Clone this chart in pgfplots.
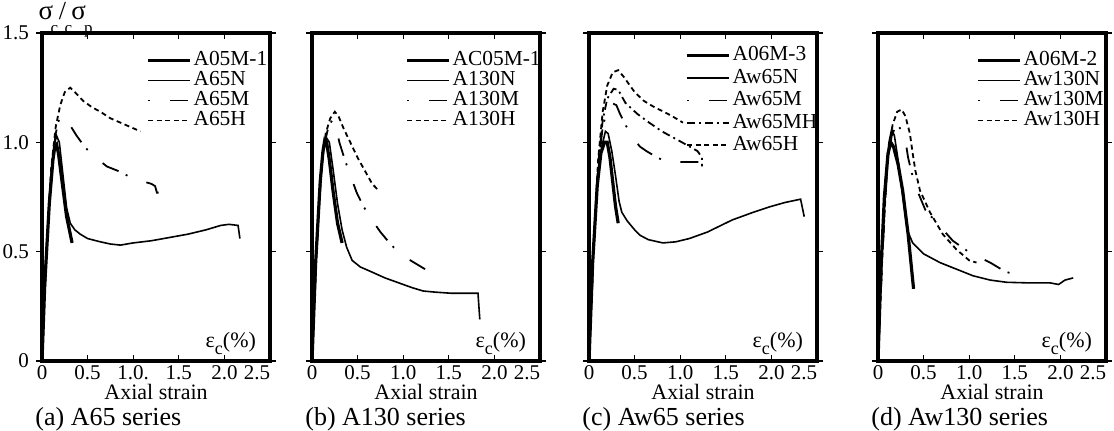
\documentclass[border=0pt]{standalone}
\usepackage{fontspec}
\setmainfont{Liberation Serif}
\usepackage{pgfplots}
\pgfplotsset{compat=1.18}
\tikzset{eps/.style={font=\fontsize{11}{12}\selectfont, anchor=base east}}
\begin{document}
\begin{tikzpicture}
\pgfplotsset{
  panel/.style={
    scale only axis, width=114pt, height=164pt, anchor=south west,
    xmin=0, xmax=2.5, ymin=0, ymax=1.5,
    axis line style={line width=1.8pt},
    xtick={0,0.5,1,1.5,2,2.5},
    xticklabels={0,0.5,1.0,1.5,2.0,\llap{2.5}},
    ytick={0,0.5,1,1.5},
    yticklabels={},
    x tick style={line width=0.6pt, black},
    y tick style={line width=0.6pt, black},
    xtick align=inside, ytick align=outside,
    major tick length=3pt,
    tick label style={font=\fontsize{10.5}{12}\selectfont},
    /pgf/number format/assume math mode=true,
    xticklabel style={inner ysep=0pt, yshift=-2pt, text depth=0pt},
    legend cell align=left,
    legend style={draw=none, fill=none, anchor=north west,
      font=\fontsize{10.7}{12}\selectfont, row sep=0pt, inner sep=0pt,
      nodes={inner xsep=1pt, inner ysep=0pt, text height=7.5pt, text depth=2.5pt}},
    legend image code/.code={\draw[##1] (0pt,0pt) -- (21pt,0pt);},
    clip=false,
  },
  sK/.style={black, line width=1.6pt},
  sN/.style={black, line width=0.8pt},
  sM/.style={black, line width=0.9pt, dash pattern=on 1pt off 10pt on 9pt off 4pt},
  sMH/.style={black, line width=0.9pt, dash pattern=on 4pt off 2pt on 1pt off 2pt},
  sH/.style={black, line width=0.9pt, dash pattern=on 2.5pt off 1.8pt},
}
% ---------------- (a) ----------------
\begin{axis}[panel, at={(21pt,34.5pt)},
  legend style={at={(0.456,0.948)}},
  xticklabels={0,0.5,1.0.,1.5,2.0,\llap{2.5}},
  yticklabels={0,0.5,1.0,1.5}]
\addplot[sK] coordinates {(0,0) (0.03,0.35) (0.08,0.72) (0.12,0.92) (0.14,0.98) (0.16,0.99) (0.18,0.95) (0.22,0.82) (0.27,0.66) (0.33,0.54)};
\addlegendentry{A05M-1}
\addplot[sN] coordinates {(0,0) (0.04,0.45) (0.09,0.8) (0.13,0.98) (0.16,1.03) (0.19,1.0) (0.23,0.85) (0.27,0.7) (0.31,0.63) (0.36,0.6) (0.42,0.58) (0.5,0.56) (0.64,0.545) (0.75,0.535) (0.86,0.53) (1.0,0.54) (1.2,0.55) (1.4,0.565) (1.6,0.58) (1.8,0.6) (1.96,0.62) (2.05,0.625) (2.15,0.62) (2.17,0.56)};
\addlegendentry{A65N}
\addplot[sM] coordinates {(0,0) (0.05,0.5) (0.1,0.85) (0.15,1.04) (0.19,1.11) (0.22,1.12) (0.26,1.11) (0.29,1.09) (0.35,1.05) (0.38,1.03) (0.45,0.99) (0.53,0.95) (0.62,0.92) (0.71,0.89) (0.83,0.87) (0.95,0.845) (1.05,0.83) (1.12,0.82) (1.2,0.81) (1.24,0.80) (1.26,0.77) (1.32,0.77)};
\addlegendentry{A65M}
\addplot[sH] coordinates {(0,0) (0.05,0.5) (0.1,0.88) (0.15,1.07) (0.2,1.17) (0.25,1.23) (0.31,1.25) (0.36,1.23) (0.45,1.19) (0.55,1.16) (0.64,1.14) (0.75,1.11) (0.86,1.09) (0.97,1.07) (1.08,1.05)};
\addlegendentry{A65H}
\node[eps] at ([xshift=-3.5pt,yshift=7pt]rel axis cs:1,0) {ε\raisebox{-0.7ex}{\fontsize{9}{10}\selectfont c}(\%)};
\end{axis}
% ---------------- (b) ----------------
\begin{axis}[panel, at={(156pt,34.5pt)}, legend style={at={(0.408,0.948)}}]
\addplot[sK] coordinates {(0,0) (0.04,0.45) (0.09,0.82) (0.12,0.96) (0.14,1.01) (0.16,1.0) (0.19,0.92) (0.23,0.78) (0.28,0.63) (0.33,0.54)};
\addlegendentry{AC05M-1}
\addplot[sN] coordinates {(0,0) (0.04,0.45) (0.09,0.82) (0.13,0.98) (0.16,1.02) (0.19,1.0) (0.23,0.88) (0.28,0.72) (0.33,0.6) (0.38,0.52) (0.44,0.46) (0.53,0.43) (0.64,0.41) (0.8,0.38) (1.0,0.35) (1.1,0.335) (1.22,0.32) (1.35,0.315) (1.52,0.31) (1.82,0.31) (1.84,0.19)};
\addlegendentry{A130N}
\addplot[sM] coordinates {(0,0) (0.05,0.5) (0.1,0.86) (0.14,1.0) (0.18,1.07) (0.22,1.10) (0.26,1.08) (0.3,1.0) (0.36,0.92) (0.42,0.85) (0.49,0.77) (0.56,0.71) (0.65,0.65) (0.75,0.59) (0.87,0.53) (1.0,0.48) (1.12,0.45) (1.24,0.42)};
\addlegendentry{A130M}
\addplot[sH] coordinates {(0,0) (0.05,0.5) (0.1,0.87) (0.15,1.04) (0.2,1.11) (0.25,1.14) (0.29,1.12) (0.35,1.06) (0.42,1.0) (0.5,0.93) (0.58,0.87) (0.66,0.81) (0.73,0.78)};
\addlegendentry{A130H}
\node[eps] at ([xshift=-3.5pt,yshift=7pt]rel axis cs:1,0) {ε\raisebox{-0.7ex}{\fontsize{9}{10}\selectfont c}(\%)};
\end{axis}
% ---------------- (c) ----------------
\begin{axis}[panel, at={(294.5pt,34.5pt)}, legend style={at={(0.421,0.966)},
  nodes={inner xsep=1pt, inner ysep=0pt, text height=8.2pt, text depth=3pt}}]
\addplot[sK] coordinates {(0,0) (0.04,0.45) (0.09,0.8) (0.13,0.95) (0.17,1.0) (0.2,1.0) (0.23,0.93) (0.26,0.82) (0.29,0.71) (0.32,0.63)};
\addlegendentry{A06M-3}
\addplot[sN] coordinates {(0,0) (0.04,0.45) (0.09,0.82) (0.14,0.98) (0.18,1.05) (0.21,1.04) (0.25,0.96) (0.29,0.85) (0.33,0.73) (0.36,0.68) (0.42,0.64) (0.5,0.6) (0.56,0.575) (0.65,0.555) (0.81,0.54) (0.95,0.545) (1.1,0.56) (1.3,0.59) (1.57,0.645) (1.8,0.68) (1.98,0.705) (2.15,0.725) (2.32,0.74) (2.36,0.66)};
\addlegendentry{Aw65N}
\addplot[sM] coordinates {(0,0) (0.05,0.5) (0.1,0.88) (0.15,1.07) (0.2,1.15) (0.25,1.18) (0.3,1.17) (0.34,1.13) (0.4,1.08) (0.48,1.02) (0.56,0.98) (0.63,0.96) (0.75,0.93) (0.86,0.91) (1.1,0.91) (1.22,0.91)};
\addlegendentry{Aw65M}
\addplot[sMH] coordinates {(0,0) (0.05,0.5) (0.1,0.9) (0.15,1.1) (0.2,1.2) (0.27,1.245) (0.32,1.24) (0.4,1.18) (0.53,1.13) (0.66,1.09) (0.8,1.05) (1.02,1.0) (1.19,0.96) (1.24,0.93) (1.24,0.89)};
\addlegendentry{Aw65MH}
\addplot[sH] coordinates {(0,0) (0.05,0.52) (0.1,0.92) (0.15,1.14) (0.2,1.26) (0.26,1.32) (0.32,1.33) (0.38,1.3) (0.5,1.23) (0.6,1.19) (0.72,1.16) (0.82,1.14) (0.91,1.12) (1.03,1.09)};
\addlegendentry{Aw65H}
\node[eps] at ([xshift=-3.5pt,yshift=7pt]rel axis cs:1,0) {ε\raisebox{-0.7ex}{\fontsize{9}{10}\selectfont c}(\%)};
\end{axis}
% ---------------- (d) ----------------
\begin{axis}[panel, at={(439pt,34.5pt)}, legend style={at={(0.43,0.948)}}]
\addplot[sK] coordinates {(0,0) (0.03,0.4) (0.07,0.75) (0.11,0.95) (0.14,1.0) (0.17,0.98) (0.22,0.9) (0.27,0.78) (0.33,0.58) (0.39,0.33)};
\addlegendentry{A06M-2}
\addplot[sN] coordinates {(0,0) (0.04,0.45) (0.08,0.82) (0.12,1.0) (0.15,1.06) (0.18,1.03) (0.22,0.92) (0.27,0.76) (0.32,0.6) (0.38,0.54) (0.5,0.49) (0.68,0.45) (0.86,0.42) (1.04,0.39) (1.23,0.37) (1.41,0.36) (1.67,0.357) (1.89,0.357) (1.98,0.35) (2.05,0.37) (2.14,0.38)};
\addlegendentry{Aw130N}
\addplot[sM] coordinates {(0,0) (0.05,0.5) (0.1,0.88) (0.15,1.03) (0.19,1.07) (0.22,1.075) (0.27,1.05) (0.3,1.01) (0.33,0.93) (0.37,0.86) (0.43,0.78) (0.52,0.69) (0.65,0.63) (0.82,0.55) (0.99,0.5) (1.23,0.45) (1.39,0.41) (1.61,0.38)};
\addlegendentry{Aw130M}
\addplot[sH] coordinates {(0,0) (0.05,0.5) (0.1,0.9) (0.16,1.08) (0.21,1.14) (0.26,1.15) (0.3,1.12) (0.35,1.04) (0.38,0.95) (0.41,0.87) (0.46,0.78) (0.57,0.68) (0.71,0.58) (0.86,0.51) (1.0,0.46) (1.08,0.45)};
\addlegendentry{Aw130H}
\node[eps] at ([xshift=-3.5pt,yshift=7pt]rel axis cs:1,0) {ε\raisebox{-0.7ex}{\fontsize{9}{10}\selectfont c}(\%)};
\end{axis}
% ---------------- labels ----------------
\begin{scope}[every node/.style={inner sep=0pt}]
\node[font=\fontsize{13.5}{14}\selectfont, anchor=base] at (23pt,205.5pt) {σ};
\node[font=\fontsize{13}{14}\selectfont, anchor=base] at (31.3pt,205.5pt) {/};
\node[font=\fontsize{13.5}{14}\selectfont, anchor=base] at (39.3pt,205.5pt) {σ};
\node[font=\fontsize{8.5}{9}\selectfont, anchor=base] at (27.2pt,198.5pt) {c};
\node[font=\fontsize{8.5}{9}\selectfont, anchor=base] at (34.2pt,198.5pt) {c};
\node[font=\fontsize{8.5}{9}\selectfont, anchor=base] at (44.2pt,198.5pt) {p};
\foreach \xl/\cap in {21/{(a) A65 series}, 156/{(b) A130 series}, 294.5/{(c) Aw65 series}, 439/{(d) Aw130 series}} {
  \node[font=\fontsize{11}{12}\selectfont, anchor=base] at (\xl pt+57pt,15.5pt) {Axial strain};
  \node[font=\fontsize{13}{14}\selectfont, anchor=base west] at (\xl pt-3.5pt,2.5pt) {\cap};
}
\end{scope}
\pgfresetboundingbox
\path[use as bounding box] (0,0) rectangle (557pt,215pt);
\end{tikzpicture}
\end{document}
